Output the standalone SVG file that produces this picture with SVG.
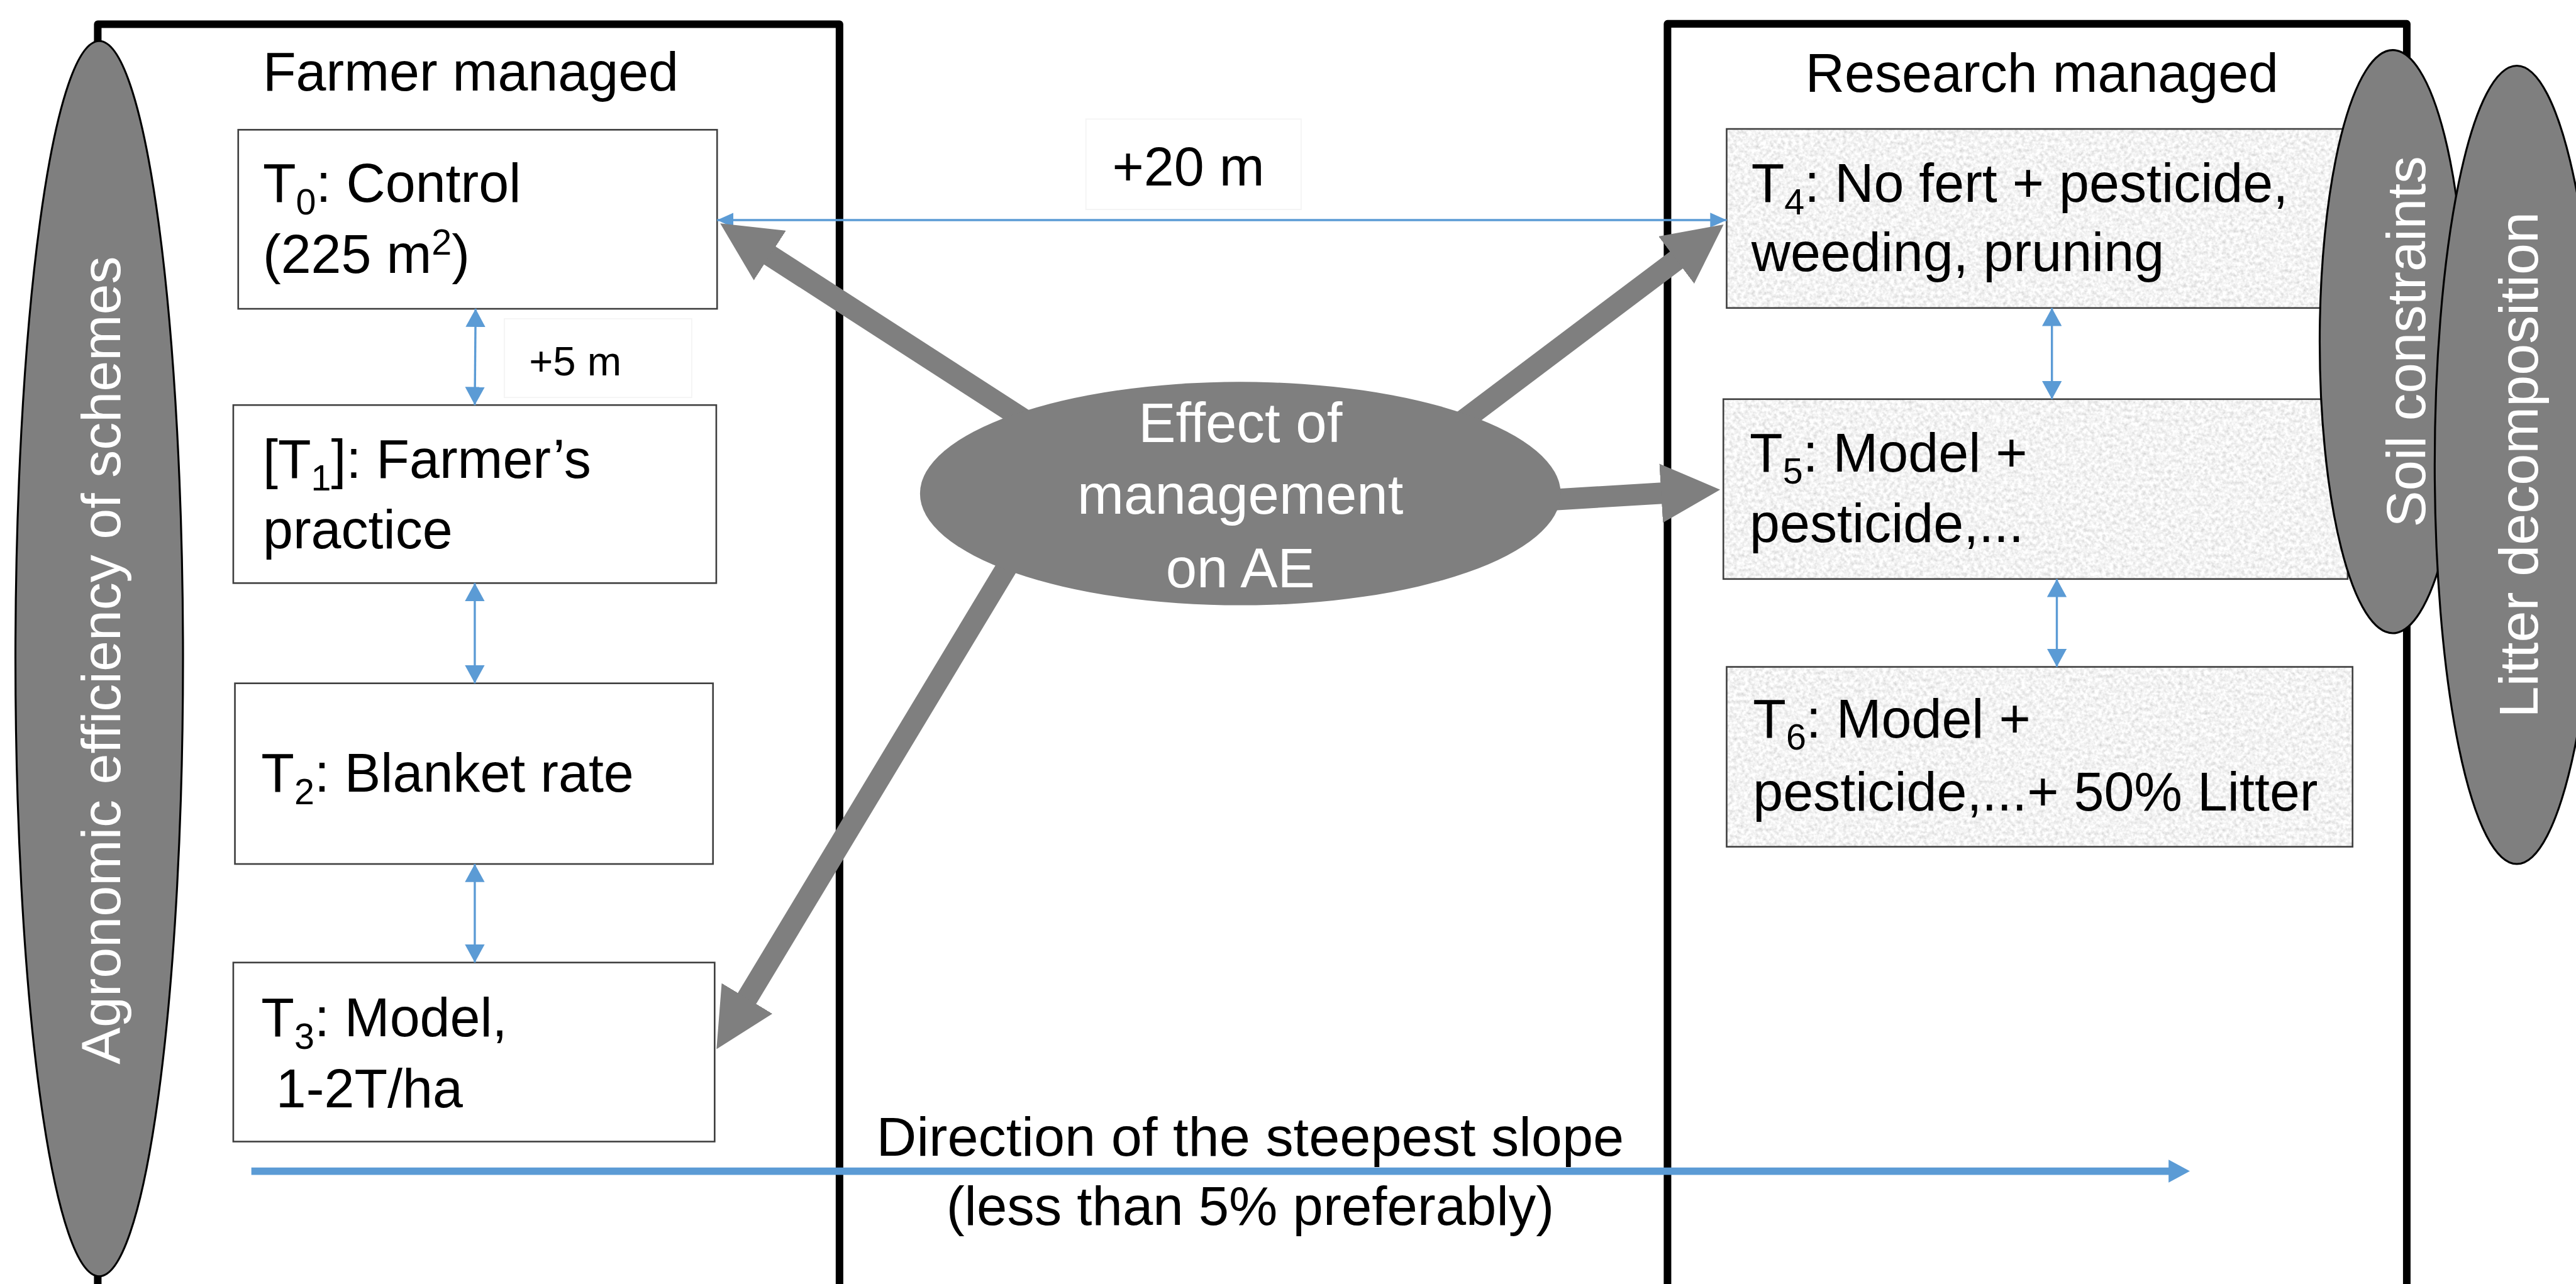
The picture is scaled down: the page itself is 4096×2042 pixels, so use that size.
<svg xmlns="http://www.w3.org/2000/svg" width="4096" height="2042" viewBox="0 0 4096 2042">
<style>
  text { font-family: "Liberation Sans", Arial, sans-serif; fill: #000; }
  .t { font-size: 33px; }
  .sub { font-size: 22px; }
  .w { fill: #fff; }
  .frame { fill: none; stroke: #000; stroke-width: 4.6; stroke-linejoin: round; }
  .box { fill: #fff; stroke: #3f3f3f; stroke-width: 1; }
  .tbox { fill: none; stroke: #3f3f3f; stroke-width: 1; }
  .lab { fill: #fff; stroke: #f4f4f4; stroke-width: 0.7; }
  .blue { stroke: #5b9bd5; stroke-width: 1.3; fill: none; }
  .big { stroke: #7f7f7f; stroke-width: 13; fill: none; }
  .oval { fill: #7f7f7f; stroke: #000; stroke-width: 1.2; }
</style>
<defs>
  <filter id="granite" x="0" y="0" width="1" height="1">
    <feTurbulence type="fractalNoise" baseFrequency="0.45" numOctaves="3" seed="7" result="n"/>
    <feColorMatrix in="n" type="matrix" values="0.6 0 0 0 0.6  0.6 0 0 0 0.6  0.6 0 0 0 0.6  0 0 0 0 1" result="g"/>
    <feComposite in="g" in2="SourceGraphic" operator="in"/>
  </filter>
  <marker id="mBlue" viewBox="0 0 11 12" markerWidth="11" markerHeight="12" refX="11" refY="6" orient="auto-start-reverse" markerUnits="userSpaceOnUse">
    <path d="M0,0 L11,6 L0,12 z" fill="#5b9bd5"/>
  </marker>
  <marker id="mBlueS" viewBox="0 0 10 9" markerWidth="10" markerHeight="9" refX="10" refY="4.5" orient="auto-start-reverse" markerUnits="userSpaceOnUse">
    <path d="M0,0 L10,4.5 L0,9 z" fill="#5b9bd5"/>
  </marker>
  <marker id="mDir" viewBox="0 0 13 14" markerWidth="13" markerHeight="14" refX="1" refY="7" orient="auto" markerUnits="userSpaceOnUse">
    <path d="M0,0 L13,7 L0,14 z" fill="#5b9bd5"/>
  </marker>
  <marker id="mGray" viewBox="0 0 36 36" markerWidth="36" markerHeight="36" refX="1" refY="18" orient="auto" markerUnits="userSpaceOnUse">
    <path d="M0,0 L36,18 L0,36 z" fill="#7f7f7f"/>
  </marker>
</defs>
<rect width="4096" height="2042" fill="#fff"/>
<g transform="scale(2.61224)">
  <!-- frames -->
  <g id="farmer-managed">
    <path class="frame" d="M59.5,800 L59.5,14.7 L511,14.7 L511,800"/>
    <text class="t" x="160" y="55">Farmer managed</text>
  </g>
  <g id="research-managed">
    <path class="frame" d="M1015,800 L1015,14.5 L1465,14.5 L1465,800"/>
    <text class="t" x="1099" y="56">Research managed</text>
  </g>

  <!-- labels -->
  <g id="label-20m">
    <rect class="lab" x="661" y="72.5" width="131" height="55"/>
    <text class="t" x="677" y="113">+20 m</text>
  </g>
  <g id="label-5m">
    <rect class="lab" x="307" y="194" width="114" height="48"/>
    <text x="322" y="228.5" font-size="25">+5 m</text>
  </g>

  <!-- farmer boxes -->
  <g id="T0">
    <rect class="box" x="145" y="79" width="291.5" height="109"/>
    <text class="t" x="160" y="123">T<tspan class="sub" dy="7.5">0</tspan><tspan dy="-7.5">: Control</tspan></text>
    <text class="t" x="160" y="166">(225 m<tspan class="sub" dy="-11">2</tspan><tspan dy="11">)</tspan></text>
  </g>
  <g id="T1">
    <rect class="box" x="142" y="246.6" width="294" height="108.4"/>
    <text class="t" x="160" y="291">[T<tspan class="sub" dy="7.5">1</tspan><tspan dy="-7.5">]: Farmer’s</tspan></text>
    <text class="t" x="160" y="334">practice</text>
  </g>
  <g id="T2">
    <rect class="box" x="143" y="416" width="291" height="110"/>
    <text class="t" x="159" y="482">T<tspan class="sub" dy="7.5">2</tspan><tspan dy="-7.5">: Blanket rate</tspan></text>
  </g>
  <g id="T3">
    <rect class="box" x="142" y="586" width="293" height="109"/>
    <text class="t" x="159" y="631">T<tspan class="sub" dy="7.5">3</tspan><tspan dy="-7.5">: Model,</tspan></text>
    <text class="t" x="168" y="674">1-2T/ha</text>
  </g>

  <!-- research boxes -->
  <g id="T4">
    <rect x="1051" y="78.5" width="378" height="109" fill="#fff" filter="url(#granite)"/>
    <rect class="tbox" x="1051" y="78.5" width="378" height="109"/>
    <text class="t" x="1066" y="123">T<tspan class="sub" dy="7.5">4</tspan><tspan dy="-7.5">: No fert + pesticide,</tspan></text>
    <text class="t" x="1066" y="165">weeding, pruning</text>
  </g>
  <g id="T5">
    <rect x="1049" y="243" width="380" height="109.5" fill="#fff" filter="url(#granite)"/>
    <rect class="tbox" x="1049" y="243" width="380" height="109.5"/>
    <text class="t" x="1065" y="287">T<tspan class="sub" dy="7.5">5</tspan><tspan dy="-7.5">: Model +</tspan></text>
    <text class="t" x="1065" y="330">pesticide,...</text>
  </g>
  <g id="T6">
    <rect x="1051" y="406" width="381" height="109.5" fill="#fff" filter="url(#granite)"/>
    <rect class="tbox" x="1051" y="406" width="381" height="109.5"/>
    <text class="t" x="1067" y="449">T<tspan class="sub" dy="7.5">6</tspan><tspan dy="-7.5">: Model +</tspan></text>
    <text class="t" x="1067" y="493.5">pesticide,...+ 50% Litter</text>
  </g>

  <!-- connectors -->
  <g id="connectors">
    <line class="blue" x1="289.5" y1="188" x2="289" y2="246.6" marker-start="url(#mBlue)" marker-end="url(#mBlue)"/>
    <line class="blue" x1="289" y1="355" x2="289" y2="416" marker-start="url(#mBlue)" marker-end="url(#mBlue)"/>
    <line class="blue" x1="289" y1="526" x2="289" y2="586" marker-start="url(#mBlue)" marker-end="url(#mBlue)"/>
    <line class="blue" x1="1249" y1="187.5" x2="1249" y2="243" marker-start="url(#mBlue)" marker-end="url(#mBlue)"/>
    <line class="blue" x1="1252" y1="352.5" x2="1252" y2="406" marker-start="url(#mBlue)" marker-end="url(#mBlue)"/>
    <line class="blue" x1="436.5" y1="134" x2="1051" y2="134" stroke-width="1" marker-start="url(#mBlueS)" marker-end="url(#mBlueS)"/>
    <line x1="153" y1="713" x2="1321" y2="713" stroke="#5b9bd5" stroke-width="4.5" marker-end="url(#mDir)"/>
    <line class="big" x1="639" y1="265.6" x2="467.8" y2="155" marker-end="url(#mGray)"/>
    <line class="big" x1="858.3" y1="280.4" x2="1021.2" y2="157.7" marker-end="url(#mGray)"/>
    <line class="big" x1="900" y1="307" x2="1012.1" y2="300.2" marker-end="url(#mGray)"/>
    <line class="big" x1="621.4" y1="331.1" x2="454.2" y2="608.7" stroke-width="13.5" marker-end="url(#mGray)"/>
  </g>

  <g id="direction-label">
    <text class="t" x="761" y="703.6" text-anchor="middle" textLength="455" lengthAdjust="spacingAndGlyphs">Direction of the steepest slope</text>
    <text class="t" x="761" y="745.7" text-anchor="middle" textLength="370" lengthAdjust="spacingAndGlyphs">(less than 5% preferably)</text>
  </g>

  <g id="effect-of-management">
    <ellipse cx="755" cy="300.5" rx="195" ry="68" fill="#7f7f7f"/>
    <text class="w" x="755" y="269.2" text-anchor="middle" font-size="34">Effect of</text>
    <text class="w" x="755" y="312.8" text-anchor="middle" font-size="34">management</text>
    <text class="w" x="755" y="357.5" text-anchor="middle" font-size="34">on AE</text>
  </g>

  <g id="agronomic-efficiency">
    <ellipse class="oval" cx="60.4" cy="401" rx="51" ry="376"/>
    <text class="w" transform="translate(73,402) rotate(-90)" text-anchor="middle" font-size="33" textLength="492" lengthAdjust="spacingAndGlyphs">Agronomic efficiency of schemes</text>
  </g>

  <g id="soil-constraints">
    <ellipse class="oval" cx="1456.5" cy="208" rx="44.5" ry="177.5"/>
    <text class="w" transform="translate(1476,208) rotate(-90)" text-anchor="middle" font-size="33" textLength="226" lengthAdjust="spacingAndGlyphs">Soil constraints</text>
  </g>

  <g id="litter-decomposition">
    <ellipse class="oval" cx="1532" cy="283" rx="50" ry="243"/>
    <text class="w" transform="translate(1544.6,283) rotate(-90)" text-anchor="middle" font-size="33" textLength="308" lengthAdjust="spacingAndGlyphs">Litter decomposition</text>
  </g>
</g>
</svg>
